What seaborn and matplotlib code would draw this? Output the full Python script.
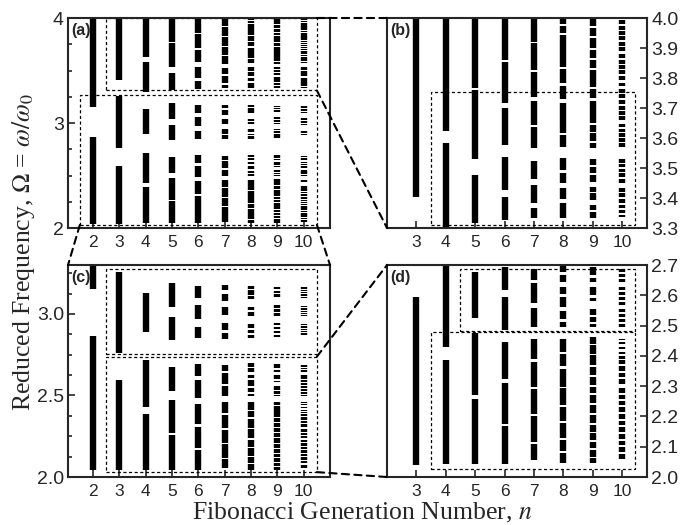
import matplotlib
matplotlib.use("Agg")
import matplotlib.pyplot as plt
from matplotlib.patches import Rectangle, ConnectionPatch
from matplotlib.ticker import MultipleLocator, FixedLocator
import seaborn as sns

# Fibonacci generations shown on the x axis
generations = [2, 3, 4, 5, 6, 7, 8, 9, 10]

# allowed bands (lower, upper) of the reduced frequency
bands_n2 = [(2.04, 2.865), (3.15, 4.05)]
bands_n3 = [(2.04, 2.593), (2.758, 3.26), (3.405, 4.05)]
bands_n4 = [(2.044, 2.386), (2.428, 2.717), (2.891, 3.131), (3.30, 3.583), (3.624, 4.05)]
bands_n5 = [(2.044, 2.257), (2.271, 2.474), (2.526, 2.677), (2.838, 2.981), (3.042, 3.187),
            (3.317, 3.476), (3.531, 3.760), (3.768, 4.05)]
bands_n6 = [(2.044, 2.168), (2.175, 2.309), (2.323, 2.446), (2.486, 2.593), (2.617, 2.693),
            (2.852, 2.92), (2.967, 3.057), (3.098, 3.171),
            (3.327, 3.402), (3.427, 3.538), (3.577, 3.699), (3.716, 3.852), (3.86, 4.05)]
bands_n7 = [(2.055, 2.110), (2.116, 2.200), (2.209, 2.289), (2.298, 2.380), (2.391, 2.457),
            (2.494, 2.557), (2.573, 2.639), (2.650, 2.686),
            (2.844, 2.883), (2.899, 2.944), (2.991, 3.042), (3.077, 3.124), (3.145, 3.175),
            (3.332, 3.366), (3.382, 3.443), (3.462, 3.524), (3.566, 3.636), (3.643, 3.723),
            (3.738, 3.819), (3.827, 3.916), (3.920, 4.05)]
bands_n8 = [(2.045, 2.080), (2.087, 2.122), (2.128, 2.179), (2.186, 2.230), (2.238, 2.293),
            (2.298, 2.356), (2.366, 2.407), (2.413, 2.457), (2.495, 2.512), (2.523, 2.547),
            (2.561, 2.594), (2.605, 2.627), (2.644, 2.666), (2.677, 2.699),
            (2.852, 2.873), (2.883, 2.899), (2.914, 2.940), (2.987, 3.012), (3.022, 3.042),
            (3.094, 3.110), (3.118, 3.145), (3.155, 3.171),
            (3.332, 3.382), (3.396, 3.432), (3.449, 3.484), (3.493, 3.532), (3.569, 3.610),
            (3.616, 3.716), (3.730, 3.774), (3.782, 3.830), (3.838, 3.943), (3.949, 3.972),
            (3.979, 4.05)]
bands_n9 = [(2.045, 2.062), (2.067, 2.089), (2.095, 2.117), (2.122, 2.144), (2.150, 2.172),
            (2.177, 2.205), (2.210, 2.238), (2.243, 2.271), (2.276, 2.298), (2.304, 2.331),
            (2.337, 2.364), (2.370, 2.402), (2.407, 2.435), (2.440, 2.462), (2.495, 2.506),
            (2.512, 2.528), (2.534, 2.556), (2.580, 2.591), (2.600, 2.627), (2.644, 2.657),
            (2.666, 2.693),
            (2.859, 2.873), (2.881, 2.897), (2.905, 2.922), (2.930, 2.944), (2.987, 3.004),
            (3.012, 3.028), (3.036, 3.053), (3.106, 3.122), (3.130, 3.143), (3.151, 3.165),
            (3.332, 3.354), (3.360, 3.377), (3.393, 3.416), (3.421, 3.438), (3.454, 3.477),
            (3.482, 3.504), (3.510, 3.529), (3.566, 3.584), (3.591, 3.616), (3.621, 3.644),
            (3.649, 3.723), (3.732, 3.763), (3.771, 3.828), (3.834, 3.861), (3.868, 3.894),
            (3.901, 3.934), (3.941, 3.968), (3.974, 4.05)]
bands_n10 = [(2.058, 2.076), (2.083, 2.098), (2.105, 2.120), (2.127, 2.142), (2.149, 2.164),
             (2.171, 2.186), (2.193, 2.208), (2.215, 2.230), (2.237, 2.252), (2.257, 2.271),
             (2.279, 2.293), (2.307, 2.323), (2.329, 2.345), (2.351, 2.367), (2.373, 2.386),
             (2.391, 2.400), (2.407, 2.413), (2.424, 2.429), (2.440, 2.446), (2.452, 2.457),
             (2.495, 2.506), (2.512, 2.523), (2.528, 2.539), (2.545, 2.556), (2.567, 2.578),
             (2.583, 2.594), (2.600, 2.611), (2.616, 2.627), (2.644, 2.655), (2.660, 2.671),
             (2.677, 2.688),
             (2.873, 2.881), (2.887, 2.895), (2.901, 2.910), (2.916, 2.924), (2.930, 2.938),
             (2.985, 2.991), (2.998, 3.006), (3.012, 3.020), (3.026, 3.034), (3.041, 3.049),
             (3.100, 3.106), (3.112, 3.120), (3.127, 3.135), (3.141, 3.149), (3.155, 3.163),
             (3.336, 3.344), (3.349, 3.360), (3.366, 3.377), (3.384, 3.396), (3.402, 3.416),
             (3.421, 3.432), (3.451, 3.462), (3.469, 3.482), (3.487, 3.498), (3.502, 3.513),
             (3.518, 3.529), (3.571, 3.582), (3.588, 3.599), (3.604, 3.616), (3.620, 3.631),
             (3.636, 3.647), (3.659, 3.672), (3.677, 3.690), (3.694, 3.708), (3.712, 3.726),
             (3.732, 3.746), (3.750, 3.763), (3.772, 3.783), (3.792, 3.808), (3.812, 3.826),
             (3.830, 3.843), (3.848, 3.861), (3.866, 3.879), (3.890, 3.903), (3.908, 3.921),
             (3.926, 3.939), (3.943, 3.957), (3.961, 3.974), (3.979, 3.992), (3.997, 4.05)]

spectrum = dict(zip(generations, [bands_n2, bands_n3, bands_n4, bands_n5, bands_n6,
                                  bands_n7, bands_n8, bands_n9, bands_n10]))

# dotted highlight boxes: (x0, x1, y0, y1)
box_a_upper = (2.5, 10.5, 3.31, 4.0)
box_a_lower = (1.5, 10.5, 2.03, 3.27)
box_b = (3.5, 10.45, 3.31, 3.755)
box_c_upper = (2.5, 10.5, 2.755, 3.277)
box_c_lower = (2.5, 10.5, 2.03, 2.738)
box_d_upper = (4.5, 10.45, 2.483, 2.687)
box_d_lower = (3.5, 10.45, 2.028, 2.478)

sns.set_theme(style="ticks")
plt.rcParams['font.family'] = ['Liberation Sans', 'DejaVu Sans']
plt.rcParams['mathtext.fontset'] = 'stix'
plt.rcParams['axes.linewidth'] = 1.5

fig = plt.figure(figsize=(6.85, 5.25), dpi=100)
ax_a = fig.add_axes([0.0993, 0.5657, 0.3825, 0.4])
ax_b = fig.add_axes([0.565, 0.5657, 0.3796, 0.4])
ax_c = fig.add_axes([0.0993, 0.0914, 0.3825, 0.4038])
ax_d = fig.add_axes([0.565, 0.0914, 0.3796, 0.4038])


def draw_bands(ax, gens):
    for n in gens:
        lo = [b[0] for b in spectrum[n]]
        hi = [b[1] for b in spectrum[n]]
        ax.vlines([n] * len(lo), lo, hi, color='black', lw=4.6, capstyle='butt')


def add_box(ax, box):
    x0, x1, y0, y1 = box
    ax.add_patch(Rectangle((x0, y0), x1 - x0, y1 - y0, fill=False, ec='black',
                           lw=0.9, ls=(0, (2.5, 2))))


draw_bands(ax_a, generations)
draw_bands(ax_c, generations)
draw_bands(ax_b, generations[1:])
draw_bands(ax_d, generations[1:])

for ax in [ax_a, ax_c]:
    ax.set_xlim(1.05, 11.0)
    ax.xaxis.set_major_locator(FixedLocator(generations))
for ax in [ax_b, ax_d]:
    ax.set_xlim(2.0, 10.85)
    ax.xaxis.set_major_locator(FixedLocator(generations[1:]))
    ax.yaxis.tick_right()
    ax.yaxis.set_major_locator(MultipleLocator(0.1))

ax_a.set_ylim(2, 4)
ax_a.yaxis.set_major_locator(MultipleLocator(1))
ax_a.yaxis.set_minor_locator(MultipleLocator(0.25))
ax_a.set_yticklabels([], minor=True)
ax_b.set_ylim(3.3, 4.0)
ax_c.set_ylim(2.0, 3.3)
ax_c.yaxis.set_major_locator(MultipleLocator(0.5))
ax_c.yaxis.set_minor_locator(MultipleLocator(0.125))
ax_c.yaxis.set_major_formatter('{x:.1f}')
ax_d.set_ylim(2.0, 2.7)
for ax in [ax_b, ax_d]:
    ax.yaxis.set_major_formatter('{x:.1f}')

for ax, lab in zip([ax_a, ax_b, ax_c, ax_d], ['(a)', '(b)', '(c)', '(d)']):
    ax.tick_params(axis='both', which='both', direction='in', width=1.2)
    ax.tick_params(axis='both', which='major', length=5)
    ax.tick_params(axis='both', which='minor', length=3)
    ax.tick_params(axis='x', labelsize=12.5, pad=5)
    ax.tick_params(axis='y', labelsize=14, pad=3)
    ax.text(0.012, 0.975, lab, transform=ax.transAxes, ha='left', va='top',
            fontsize=11.5, fontweight='bold')

add_box(ax_a, box_a_upper)
add_box(ax_a, box_a_lower)
add_box(ax_b, box_b)
add_box(ax_c, box_c_upper)
add_box(ax_c, box_c_lower)
add_box(ax_d, box_d_upper)
add_box(ax_d, box_d_lower)

# dashed zoom connectors
links = [
    (ax_a, (box_a_upper[1], box_a_upper[3]), ax_b, (0, 1)),
    (ax_a, (box_a_upper[1], box_a_upper[2]), ax_b, (0, 0)),
    (ax_a, (box_a_lower[0], box_a_lower[2]), ax_c, (0, 1)),
    (ax_a, (box_a_lower[1], box_a_lower[2]), ax_c, (1, 1)),
    (ax_c, (box_c_lower[1], box_c_lower[3]), ax_d, (0, 1)),
    (ax_c, (box_c_lower[1], box_c_lower[2]), ax_d, (0, 0)),
]
for axA, xyA, axB, xyB in links:
    con = ConnectionPatch(xyA=xyA, coordsA='data', axesA=axA,
                          xyB=xyB, coordsB='axes fraction', axesB=axB,
                          color='black', lw=1.5, ls=(0, (3.5, 2.5)))
    fig.add_artist(con)

fig.text(0.034, 0.52, r'Reduced Frequency, $\Omega$ = $\omega/\omega_0$', rotation=90,
         ha='center', va='center', fontsize=18.5, family=['Liberation Serif', 'DejaVu Serif'])
fig.text(0.528, 0.022, r'Fibonacci Generation Number, $n$', ha='center', va='center',
         fontsize=18.5, family=['Liberation Serif', 'DejaVu Serif'])

fig.savefig('out.png', dpi=100)
